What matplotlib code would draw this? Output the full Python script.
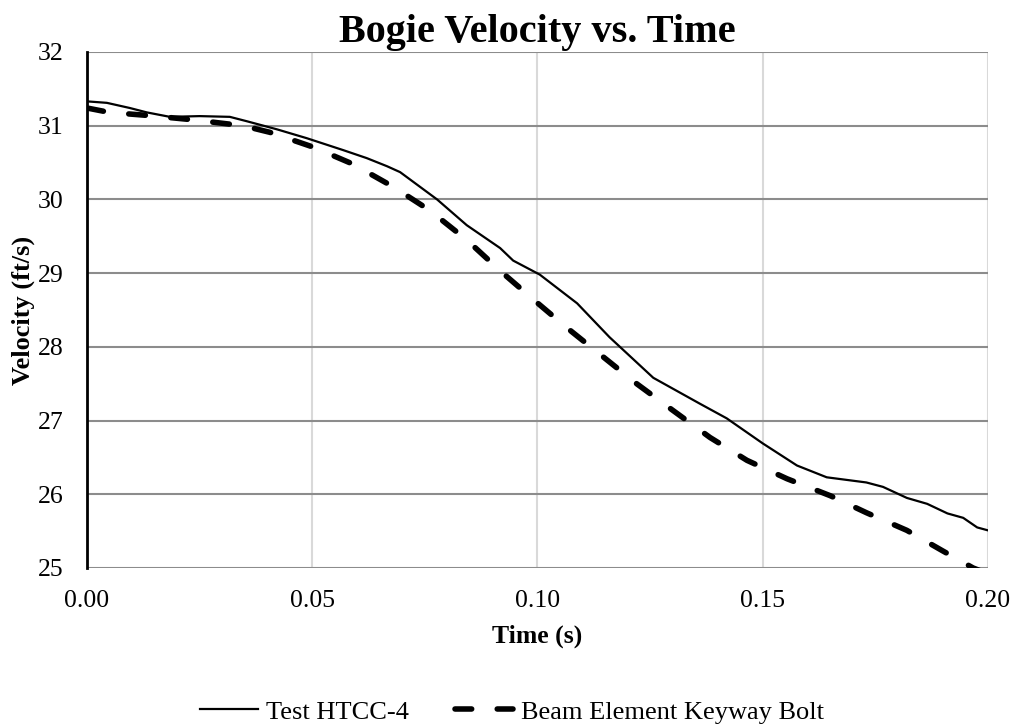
import matplotlib.pyplot as plt
from matplotlib.ticker import MultipleLocator, FormatStrFormatter

plt.rcParams['font.family'] = ['Liberation Serif', 'DejaVu Serif']

# Test HTCC-4 (solid)
test_t = [0.0, 0.0044, 0.0095, 0.0133, 0.0184, 0.025, 0.0317, 0.0355, 0.0422, 0.0488,
          0.0568, 0.0621, 0.0666, 0.0695, 0.0777, 0.0843, 0.0917, 0.0946, 0.1005,
          0.1088, 0.116, 0.1257, 0.136, 0.142, 0.150, 0.1576, 0.1642, 0.173, 0.1767,
          0.182, 0.1865, 0.191, 0.1945, 0.1976, 0.20]
test_v = [31.33, 31.31, 31.24, 31.18, 31.12, 31.13, 31.12, 31.06, 30.95, 30.83,
          30.67, 30.56, 30.45, 30.37, 30.00, 29.65, 29.34, 29.17, 28.98,
          28.59, 28.13, 27.58, 27.23, 27.03, 26.69, 26.39, 26.23, 26.16, 26.10,
          25.95, 25.87, 25.74, 25.68, 25.55, 25.51]

# Beam Element Keyway Bolt (dashed)
beam_t = [0.0, 0.005, 0.0133, 0.0235, 0.0346, 0.0406, 0.0502, 0.059, 0.068, 0.0761,
          0.0843, 0.0923, 0.0999, 0.1065, 0.122, 0.130, 0.1383, 0.1465, 0.1554,
          0.165, 0.173, 0.182, 0.190, 0.1967, 0.20]
beam_v = [31.24, 31.18, 31.14, 31.08, 31.00, 30.91, 30.71, 30.48, 30.17, 29.85,
          29.45, 29.00, 28.60, 28.26, 27.50, 27.14, 26.77, 26.46, 26.21,
          25.98, 25.75, 25.51, 25.23, 25.00, 24.92]

fig = plt.figure(figsize=(10.13, 7.25), dpi=100)
ax = fig.add_axes([0.0859, 0.2166, 0.8894, 0.7117])

ax.plot(test_t, test_v, color='black', lw=1.6, label='Test HTCC-4')
ax.plot(beam_t, beam_v, color='black', lw=4, linestyle=(0, (3.0, 4.6)),
        dash_capstyle='round', label='Beam Element Keyway Bolt')

ax.set_xlim(0, 0.20)
ax.set_ylim(25, 32)
ax.xaxis.set_major_locator(MultipleLocator(0.05))
ax.yaxis.set_major_locator(MultipleLocator(1))
ax.xaxis.set_major_formatter(FormatStrFormatter('%.2f'))

ax.grid(axis='y', color='#8c8c8c', lw=1.5)
ax.grid(axis='x', color='#d9d9d9', lw=1.5)
ax.set_axisbelow(True)
ax.tick_params(axis='y', length=0, labelsize=18.5, colors='black', pad=17)
ax.tick_params(axis='x', length=0, labelsize=18.5, colors='black', pad=16)

for s in ['top', 'right', 'bottom']:
    ax.spines[s].set_visible(False)
ax.spines['left'].set_color('black')
ax.spines['left'].set_linewidth(2)

ax.set_title('Bogie Velocity vs. Time', fontsize=29, fontweight='bold', pad=7)
ax.set_xlabel('Time (s)', fontsize=18.5, fontweight='bold', labelpad=9)
ax.set_ylabel('Velocity (ft/s)', fontsize=19, fontweight='bold', labelpad=2)

fig.legend(loc='center', bbox_to_anchor=(0.505, 0.018), ncol=2, frameon=False,
           fontsize=19, handlelength=2.2, handletextpad=0.3, columnspacing=1.75)

fig.savefig('out.png', dpi=100)
